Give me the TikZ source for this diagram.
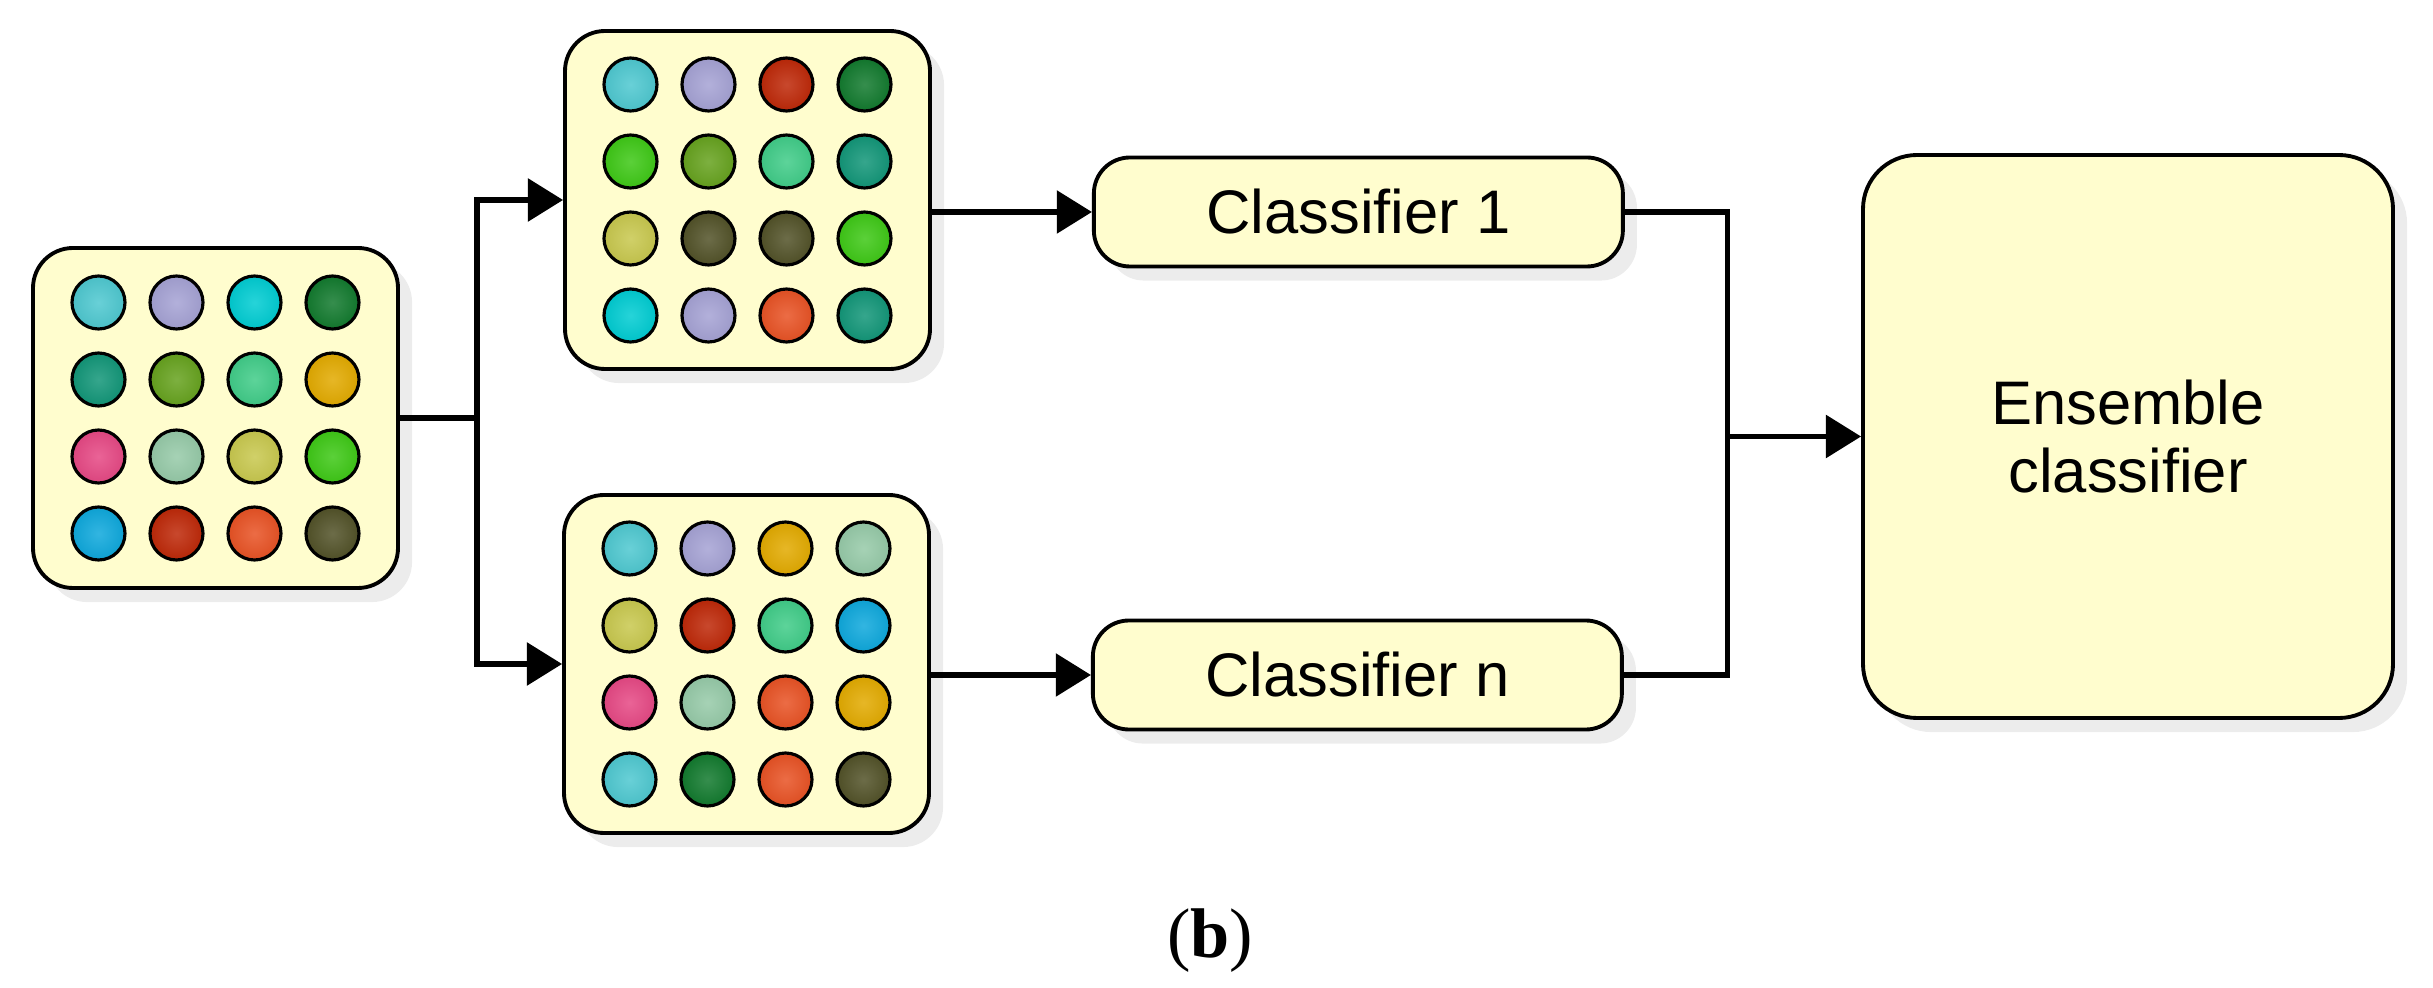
\documentclass[tikz,border=0pt]{standalone}
\usepackage{fontspec}
\setmainfont{Liberation Sans}
\newfontfamily\captionfont{Liberation Serif}
\usepackage{xcolor}
\usepackage{tikz}
\usetikzlibrary{arrows.meta,calc,positioning,shadows}
\definecolor{panelCream}{RGB}{255,253,206}
\definecolor{cLtCyan}{RGB}{78,200,208}
\definecolor{cLavender}{RGB}{165,162,212}
\definecolor{cCyan}{RGB}{0,204,210}
\definecolor{cDkGreen}{RGB}{18,122,46}
\definecolor{cTeal}{RGB}{18,150,120}
\definecolor{cOlive}{RGB}{102,162,30}
\definecolor{cSea}{RGB}{64,204,136}
\definecolor{cAmber}{RGB}{226,170,0}
\definecolor{cPink}{RGB}{230,72,132}
\definecolor{cSage}{RGB}{150,202,168}
\definecolor{cMustard}{RGB}{200,200,78}
\definecolor{cLime}{RGB}{62,200,22}
\definecolor{cBlue}{RGB}{14,168,220}
\definecolor{cBrick}{RGB}{190,40,8}
\definecolor{cOrange}{RGB}{232,82,36}
\definecolor{cDkOlive}{RGB}{82,82,40}

% 4x4 grid of coloured dots inside a holder node: #1 node, #2 colours row by row
\newcommand{\dotgrid}[2]{%
  \foreach \c [count=\k from 0] in {#2} {
    \pgfmathtruncatemacro{\col}{mod(\k,4)}
    \pgfmathtruncatemacro{\row}{floor(\k/4)}
    \shadedraw[dotball, inner color=\c!85!white, outer color=\c!95!black]
      ($(#1.center)+({(\col-1.5)*0.78},{(1.5-\row)*0.77})$) circle (0.265);
  }}

\begin{document}
\begin{tikzpicture}[
    font=\fontsize{17.5}{19.6}\selectfont,
    >={Triangle[length=10pt,width=12pt]},
    link/.style={line width=1.5pt, draw=black},
    flow/.style={->, line width=1.5pt, draw=black},
    holder/.style={
      rounded corners=0.4cm,
      draw=black,
      line width=1.1pt,
      fill=panelCream,
      minimum width=3.65cm,
      minimum height=3.38cm,
      drop shadow={opacity=0.15, shadow xshift=4pt, shadow yshift=-4pt}
    },
    clfbox/.style={
      rounded corners=0.36cm,
      draw=black,
      line width=1.1pt,
      fill=panelCream,
      minimum width=5.29cm,
      minimum height=1.09cm,
      drop shadow={opacity=0.15, shadow xshift=4pt, shadow yshift=-4pt}
    },
    ensbox/.style={
      rounded corners=0.54cm,
      draw=black,
      line width=1.1pt,
      fill=panelCream,
      align=center,
      minimum width=5.3cm,
      minimum height=5.63cm,
      drop shadow={opacity=0.15, shadow xshift=4pt, shadow yshift=-4pt}
    },
    dotball/.style={draw=black, line width=0.9pt}
  ]
    \useasboundingbox (0,0) rectangle (24.33,-9.88);

    \node[holder, minimum height=3.40cm] (input) at (2.155,-4.18) {};
    \node[holder] (bag1) at (7.475,-2.00) {};
    \node[holder] (bagn) at (7.465,-6.64) {};

    \node[clfbox, right=1.6cm of bag1, yshift=-0.12cm] (clf1) {Classifier 1};
    \node[clfbox, right=1.6cm of bagn, yshift=-0.11cm] (clfn) {Classifier n};

    \node[ensbox] (ens) at (21.28,-4.365) {Ensemble\\classifier};

    \dotgrid{input}{cLtCyan,cLavender,cCyan,cDkGreen,
      cTeal,cOlive,cSea,cAmber,
      cPink,cSage,cMustard,cLime,
      cBlue,cBrick,cOrange,cDkOlive}
    \dotgrid{bag1}{cLtCyan,cLavender,cBrick,cDkGreen,
      cLime,cOlive,cSea,cTeal,
      cMustard,cDkOlive,cDkOlive,cLime,
      cCyan,cLavender,cOrange,cTeal}
    \dotgrid{bagn}{cLtCyan,cLavender,cAmber,cSage,
      cMustard,cBrick,cSea,cBlue,
      cPink,cSage,cOrange,cAmber,
      cLtCyan,cDkGreen,cOrange,cDkOlive}

    % split the data into subsets
    \coordinate (split) at ($(input.east)+(0.77,0)$);
    \draw[link] (input.east) -- (split);
    \draw[flow] (split) |- (bag1.west);
    \draw[flow] (split) |- (bagn.west);

    \draw[flow] (bag1.east |- clf1.west) -- (clf1.west);
    \draw[flow] (bagn.east |- clfn.west) -- (clfn.west);

    % combine the classifiers
    \coordinate (merge) at ($(clf1.east)+(1.03,0)$);
    \draw[link] (clf1.east) -- (merge) |- (clfn.east);
    \draw[flow] (merge |- ens.west) -- (ens.west);

    \node[font=\captionfont\fontsize{20}{24}\selectfont] (tag) at (12.10,-9.41) {(\textbf{b})};
  \end{tikzpicture}
\end{document}
